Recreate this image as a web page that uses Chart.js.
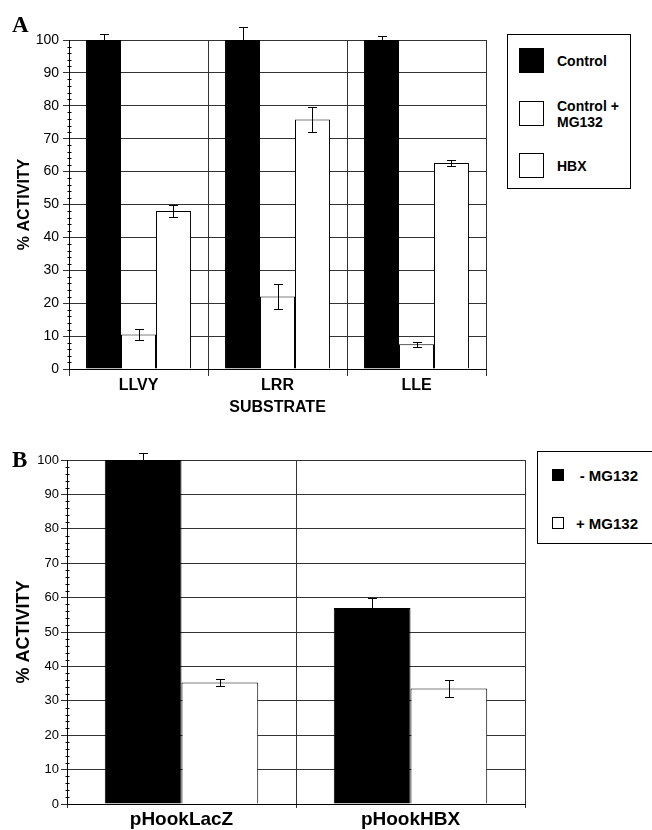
<!DOCTYPE html>
<html>
<head>
<meta charset="utf-8">
<script src="https://cdn.jsdelivr.net/npm/chart.js@4.4.1/dist/chart.umd.min.js"></script>
<style>
  body { margin: 0; width: 652px; height: 830px; overflow: hidden; background: #fff; position: relative;
         font-family: 'Liberation Sans', Arial, sans-serif; color: #000; }
  canvas { position: absolute; left: 0; }
  #chartA { top: 0; }
  #chartB { top: 415px; }
  .panel { position: absolute; font-family: 'Liberation Serif', 'Times New Roman', serif; font-weight: bold;
           font-size: 23px; line-height: 23px; }
  .legend { position: absolute; border: 1px solid #000; box-sizing: border-box; background: #fff; font-weight: bold; }
  .legend .item { position: absolute; display: flex; align-items: center; }
  .legend .sw { box-sizing: border-box; border: 1px solid #000; flex: none; }
</style>
</head>
<body>
<canvas id="chartA" width="652" height="420"></canvas>
<canvas id="chartB" width="652" height="415"></canvas>
<div class="panel" style="left:12px;top:13px">A</div>
<div class="panel" style="left:12px;top:448px">B</div>
<div class="legend" id="legendA" style="left:507px;top:34px;width:124px;height:155px;font-size:14px;line-height:16px"></div>
<div class="legend" id="legendB" style="left:537px;top:451px;width:130px;height:93px;font-size:15px;line-height:17px"></div>
<script>
// panel A data
const substrates = ['LLVY', 'LRR', 'LLE'];
const controlVals = [100, 100, 100];
const controlErr = [1.7, 4, 1.2];
const mg132Vals = [10.5, 22, 7.5];
const mg132Err = [1.8, 3.8, 0.7];
const hbxVals = [48, 75.8, 62.6];
const hbxErr = [1.8, 3.8, 0.9];

// panel B data
const constructs = ['pHookLacZ', 'pHookHBX'];
const minusVals = [100, 57];
const minusErr = [2, 3];
const plusVals = [35.3, 33.6];
const plusErr = [1.1, 2.5];

const yTicks = { min: 0, max: 100, step: 10, minorStep: 2 };
const FONT = "'Liberation Sans', Arial, sans-serif";

// error bars + small minor ticks on the y axis
const errorBars = {
  id: 'errorBars',
  afterDatasetsDraw(chart, args, opts) {
    const ctx = chart.ctx;
    const y = chart.scales.y;
    ctx.save();
    ctx.strokeStyle = '#000';
    ctx.lineWidth = 1;
    chart.data.datasets.forEach((ds, di) => {
      const meta = chart.getDatasetMeta(di);
      meta.data.forEach((bar, i) => {
        const v = ds.data[i], e = ds.errors[i];
        const x = Math.round(bar.x) + 0.5;
        const top = Math.round(y.getPixelForValue(v + e)) + 0.5;
        const bot = Math.round(y.getPixelForValue(v - e)) + 0.5;
        ctx.beginPath();
        ctx.moveTo(x, top); ctx.lineTo(x, bot);
        ctx.moveTo(x - opts.cap, top); ctx.lineTo(x + opts.cap, top);
        ctx.moveTo(x - opts.cap, bot); ctx.lineTo(x + opts.cap, bot);
        ctx.stroke();
      });
    });
    const left = Math.round(chart.chartArea.left) + 0.5;
    ctx.beginPath();
    for (let v = yTicks.min; v <= yTicks.max; v += yTicks.minorStep) {
      if (v % yTicks.step === 0) continue;
      const py = Math.round(y.getPixelForValue(v)) + 0.5;
      ctx.moveTo(left - 2, py); ctx.lineTo(left + 2, py);
    }
    ctx.stroke();
    ctx.restore();
  }
};

function makeChart(id, labels, datasets, s) {
  return new Chart(document.getElementById(id), {
    type: 'bar',
    data: { labels: labels, datasets: datasets },
    plugins: [errorBars],
    options: {
      responsive: false,
      animation: false,
      devicePixelRatio: 1,
      layout: { padding: s.padding },
      datasets: { bar: { categoryPercentage: s.catPct, barPercentage: 1, borderColor: '#000', borderWidth: 1 } },
      plugins: {
        legend: { display: false },
        tooltip: { enabled: false },
        errorBars: { cap: 4.5 }
      },
      scales: {
        x: {
          grid: { color: '#333', tickLength: s.xTick, offset: true },
          border: { color: '#000' },
          ticks: { color: '#000', padding: 0, font: { family: FONT, size: s.xFont, weight: 'bold' } },
          title: s.xTitle ? { display: true, text: s.xTitle, color: '#000', padding: { top: 0, bottom: 3 },
                              font: { family: FONT, size: 16, weight: 'bold' } } : { display: false },
          afterFit: sc => { sc.height = s.xHeight; }
        },
        y: {
          min: yTicks.min, max: yTicks.max,
          grid: { color: '#333', tickLength: 6 },
          border: { color: '#000' },
          ticks: { stepSize: yTicks.step, color: '#000', padding: s.yPad, font: { family: FONT, size: s.yFont } },
          title: { display: true, text: '% ACTIVITY', color: '#000', padding: { top: 5, bottom: 0 },
                   font: { family: FONT, size: s.yTitleFont, weight: 'bold' } },
          afterFit: sc => { sc.width = s.yWidth; }
        }
      }
    }
  });
}

const chartA = makeChart('chartA', substrates, [
  { label: 'Control', data: controlVals, errors: controlErr, backgroundColor: '#000' },
  { label: 'Control + MG132', data: mg132Vals, errors: mg132Err, backgroundColor: '#fff' },
  { label: 'HBX', data: hbxVals, errors: hbxErr, backgroundColor: '#fff' }
], { padding: { left: 10, right: 166, top: 40, bottom: 0 }, catPct: 0.755, xTick: 7, xFont: 16,
     xTitle: 'SUBSTRATE', xHeight: 51, yWidth: 59, yPad: 4, yFont: 14, yTitleFont: 16 });

const chartB = makeChart('chartB', constructs, [
  { label: '- MG132', data: minusVals, errors: minusErr, backgroundColor: '#000' },
  { label: '+ MG132', data: plusVals, errors: plusErr, backgroundColor: '#fff' }
], { padding: { left: 8, right: 127, top: 45, bottom: 0 }, catPct: 0.67, xTick: 4, xFont: 19,
     xTitle: null, xHeight: 26, yWidth: 59, yPad: 2, yFont: 13, yTitleFont: 18 });

// legend A: big swatches, text on the right
const legA = document.getElementById('legendA');
const topsA = [13, 66, 118];
chartA.data.datasets.forEach((ds, i) => {
  const it = document.createElement('div');
  it.className = 'item';
  it.style.left = '11px';
  it.style.top = topsA[i] + 'px';
  it.style.height = '25px';
  it.innerHTML = `<div class="sw" style="width:25px;height:25px;background:${ds.backgroundColor}"></div>` +
                 `<span style="margin-left:13px;width:70px">${ds.label}</span>`;
  legA.appendChild(it);
});

// legend B: small swatches, text right aligned
const legB = document.getElementById('legendB');
const topsB = [17, 65];
chartB.data.datasets.forEach((ds, i) => {
  const it = document.createElement('div');
  it.className = 'item';
  it.style.left = '14px';
  it.style.right = '28px';
  it.style.top = topsB[i] + 'px';
  it.style.height = '12px';
  it.style.justifyContent = 'space-between';
  it.innerHTML = `<div class="sw" style="width:12px;height:12px;background:${ds.backgroundColor}"></div>` +
                 `<span style="white-space:nowrap">${ds.label}</span>`;
  legB.appendChild(it);
});
</script>
</body>
</html>
